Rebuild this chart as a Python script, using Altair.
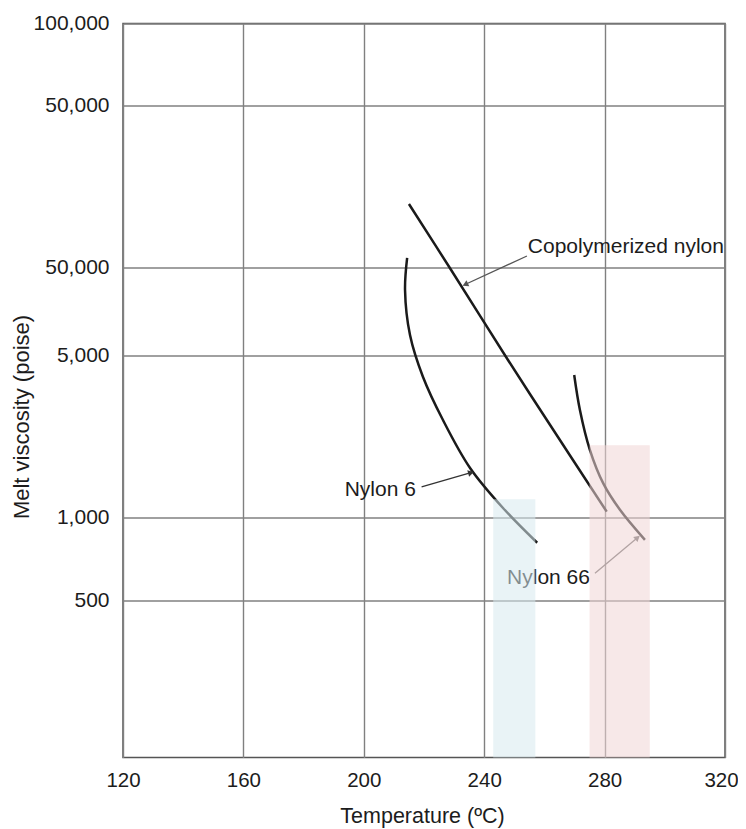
import altair as alt
import pandas as pd

# ---- data ----
x_ticks = [120, 160, 200, 240, 280, 320]
y_ticks = [500, 1000, 5000, 10000, 50000, 100000]
y_tick_labels = ["500", "1,000", "5,000", "50,000", "50,000", "100,000"]

copoly_T = [215.0, 228.6, 247.9, 261.9, 280.7]
copoly_V = [18750, 9960, 4780, 2507, 1060]

nylon6_T = [214.4, 213.7, 215.35, 219.67, 226.3, 235.3, 246.25, 257.6]
nylon6_V = [10990, 8377, 5873, 4040, 2634, 1636, 1099, 810]

nylon66_T = [269.9, 271.8, 275.1, 279.6, 285.1, 293.4]
nylon66_V = [4120, 2910, 1960, 1400, 1080, 830]

band_T0 = [243, 275]
band_T1 = [257, 295]
band_top = [1200, 2050]
band_bottom = [100, 100]
band_color = ["#d7e9ef", "#f0d5d5"]

label_text = ["Copolymerized nylon", "Nylon 6", "Nylon 66"]
label_T = [254.5, 217.3, 247.6]
label_V = [12260, 1315, 603]
label_align = ["left", "right", "left"]

arrow_T0 = [254.2, 219.2, 276.8]
arrow_V0 = [11210, 1354, 628]
arrow_T1 = [234.0, 235.3, 290.7]
arrow_V1 = [8780, 1556, 841]
arrow_angle = [245, 74, 50]
arrow_color = ["#555555", "#333333", "#666666"]

# ---- tables ----
rows = []
for name, T, V in [("Copolymerized nylon", copoly_T, copoly_V),
                   ("Nylon 6", nylon6_T, nylon6_V),
                   ("Nylon 66", nylon66_T, nylon66_V)]:
    for i, (t, v) in enumerate(zip(T, V)):
        rows.append({"series": name, "i": i, "T": t, "V": v})
curves = pd.DataFrame(rows)

bands = pd.DataFrame({"T0": band_T0, "T1": band_T1, "top": band_top,
                      "bottom": band_bottom, "color": band_color})
labels = pd.DataFrame({"text": label_text, "T": label_T, "V": label_V, "align": label_align})
arrows = pd.DataFrame({"T0": arrow_T0, "V0": arrow_V0, "T1": arrow_T1, "V1": arrow_V1,
                       "angle": arrow_angle, "color": arrow_color})

FONT = "Liberation Sans"
TXT = "#1c1c1c"

label_expr = " : ".join(
    f"datum.value == {v} ? '{s}'" for v, s in zip(y_ticks, y_tick_labels)
) + " : ''"

xscale = alt.Scale(domain=[120, 320], nice=False, zero=False)
# the printed scale is uneven, so the log scale is piecewise
yscale = alt.Scale(type="log", domain=[100, 500, 1000, 5000, 10000, 50000, 100000],
                   range=[734, 577, 494, 332, 244, 81.5, 0], nice=False, zero=False)

xaxis = alt.Axis(values=x_ticks, title="Temperature (ºC)", ticks=False, domain=False,
                 labelFlush=False, labelPadding=13, labelFontSize=20.5, labelFont=FONT,
                 labelOffset={"expr": "datum.value == 320 ? -4 : 0"},
                 labelColor=TXT, titleFont=FONT, titleFontSize=21.5, titleFontWeight="normal",
                 titleColor=TXT, titleX=299, titleY=59, titleBaseline="middle",
                 grid=True, gridColor="#808080", gridWidth=1.4)
yaxis = alt.Axis(values=y_ticks, labelExpr=label_expr, title="Melt viscosity (poise)",
                 ticks=False, domain=False, labelPadding=14, labelFontSize=21, labelFont=FONT,
                 labelColor=TXT, titleFont=FONT, titleFontSize=22, titleFontWeight="normal",
                 titleColor=TXT, titleX=-102, titleY=393, titleBaseline="middle",
                 titleAngle=270, grid=True, gridColor="#808080", gridWidth=1.4)

base_x = alt.X("T:Q", scale=xscale, axis=xaxis)
base_y = alt.Y("V:Q", scale=yscale, axis=yaxis)

lines = alt.Chart(curves).mark_line(color="#1a1a1a", strokeWidth=2.5,
                                    interpolate="catmull-rom").encode(
    x=base_x, y=base_y, detail="series:N", order="i:Q")

def text_layer(align):
    return alt.Chart(labels).transform_filter(
        alt.datum.align == align
    ).mark_text(font=FONT, fontSize=21, color=TXT, baseline="middle", align=align).encode(
        x=alt.X("T:Q", scale=xscale), y=alt.Y("V:Q", scale=yscale), text="text:N")

texts_left = text_layer("left")
texts_right = text_layer("right")

arrow_lines = alt.Chart(arrows).mark_rule(strokeWidth=1.3).encode(
    x=alt.X("T0:Q", scale=xscale), y=alt.Y("V0:Q", scale=yscale),
    x2="T1:Q", y2="V1:Q", color=alt.Color("color:N", scale=None))

arrow_heads = alt.Chart(arrows).mark_point(shape="triangle", filled=True, size=45,
                                           opacity=1).encode(
    x=alt.X("T1:Q", scale=xscale), y=alt.Y("V1:Q", scale=yscale),
    angle=alt.Angle("angle:Q", scale=None), color=alt.Color("color:N", scale=None))

rects = alt.Chart(bands).mark_rect(opacity=0.55).encode(
    x=alt.X("T0:Q", scale=xscale), x2="T1:Q",
    y=alt.Y("top:Q", scale=yscale), y2="bottom:Q",
    color=alt.Color("color:N", scale=None))

chart = alt.layer(lines, texts_left, texts_right, arrow_lines, arrow_heads, rects).properties(
    width=602, height=734,
    autosize=alt.AutoSizeParams(type="none"),
    padding={"left": 115, "top": 15.5, "right": 13, "bottom": 70},
    background="white",
).configure_view(stroke="#555", strokeWidth=1.5)

chart.save("out.html", embed_options={"renderer": "svg", "actions": False})
